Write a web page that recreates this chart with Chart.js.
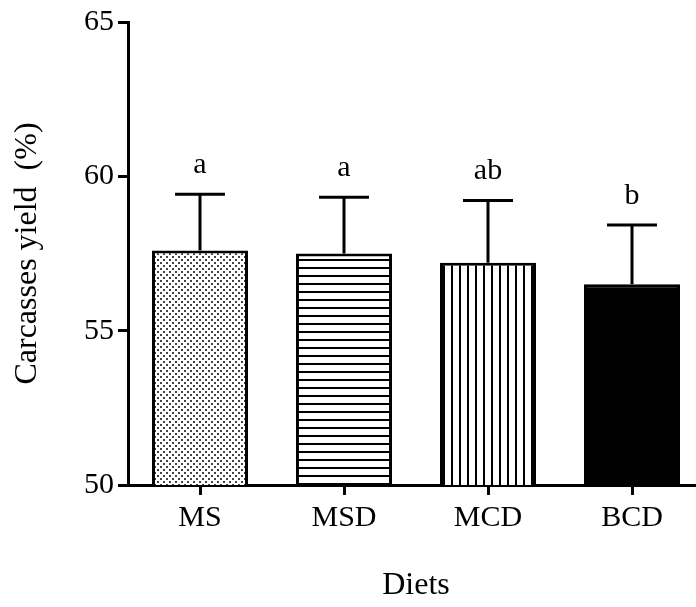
<!DOCTYPE html>
<html>
<head>
<meta charset="utf-8">
<script src="https://cdn.jsdelivr.net/npm/chart.js@4"></script>
<style>
  body { margin: 0; overflow: hidden; background: #fff; }
  canvas { display: block; }
</style>
</head>
<body>
<canvas id="yield" width="710" height="607"></canvas>
<script>
// data
var diets = ['MS', 'MSD', 'MCD', 'BCD'];
var meanYield = [57.6, 57.5, 57.2, 56.5];
var sdYield = [1.82, 1.82, 2.02, 1.92];
var letters = ['a', 'a', 'ab', 'b'];
var yTicks = [50, 55, 60, 65];

var serif = '"Liberation Serif", "Times New Roman", serif';

// fill patterns for the bars
function makePattern(kind) {
  var c = document.createElement('canvas');
  var g = c.getContext('2d');
  c.width = 6; c.height = 6;
  if (kind == 'hlines' || kind == 'vlines') { c.width = 8; c.height = 8; }
  g.fillStyle = '#fff'; g.fillRect(0, 0, c.width, c.height);
  if (kind == 'dots') {
    g.fillStyle = '#444';
    g.fillRect(1, 1, 2, 2);
    g.fillRect(4, 4, 2, 2);
  } else if (kind == 'hlines') {
    g.fillStyle = '#000'; g.fillRect(0, 3, 8, 2);
  } else if (kind == 'vlines') {
    g.fillStyle = '#000'; g.fillRect(3, 0, 2, 8);
  }
  return g.createPattern(c, 'repeat');
}

var fills = [makePattern('dots'), makePattern('hlines'), makePattern('vlines'), '#000'];

var errorBars = {
  id: 'errorBars',
  afterDatasetsDraw: function (chart) {
    var ctx = chart.ctx;
    var xs = chart.scales.x, ys = chart.scales.y;
    ctx.save();
    ctx.strokeStyle = '#000';
    ctx.lineWidth = 3;
    ctx.fillStyle = '#000';
    ctx.font = '30px ' + serif;
    ctx.textAlign = 'center';
    ctx.textBaseline = 'middle';
    for (var i = 0; i < diets.length; i++) {
      var x = xs.getPixelForValue(i);
      var y0 = ys.getPixelForValue(meanYield[i]);
      var y1 = ys.getPixelForValue(meanYield[i] + sdYield[i]);
      ctx.beginPath();
      ctx.moveTo(x, y0);
      ctx.lineTo(x, y1);
      ctx.moveTo(x - 25, y1);
      ctx.lineTo(x + 25, y1);
      ctx.stroke();
      ctx.fillText(letters[i], x, y1 - 29);
    }
    ctx.restore();
  }
};

var chart = new Chart(document.getElementById('yield'), {
  type: 'bar',
  data: {
    labels: diets,
    datasets: [{
      data: meanYield,
      backgroundColor: fills,
      borderColor: '#000',
      borderWidth: 3,
      borderSkipped: 'bottom',
      barPercentage: 0.667,
      categoryPercentage: 1
    }]
  },
  options: {
    responsive: false,
    animation: false,
    layout: { padding: { left: 0, top: 20, right: 6, bottom: 0 } },
    plugins: { legend: { display: false }, tooltip: { enabled: false } },
    scales: {
      x: {
        grid: { display: true, drawOnChartArea: false, offset: false, color: '#000', lineWidth: 3, tickLength: 10 },
        border: { color: '#000', width: 3 },
        ticks: { color: '#000', font: { family: serif, size: 30 }, padding: 5 },
        title: { display: true, text: 'Diets', color: '#000', font: { family: serif, size: 32 }, padding: { top: 0, bottom: 2 } },
        afterFit: function (s) { s.height = 122; }
      },
      y: {
        min: 50,
        max: 65,
        afterBuildTicks: function (s) { s.ticks = yTicks.map(function (v) { return { value: v }; }); },
        grid: { display: true, drawOnChartArea: false, color: '#000', lineWidth: 3, tickLength: 10 },
        border: { color: '#000', width: 3 },
        ticks: { color: '#000', font: { family: serif, size: 30 }, padding: 4 },
        title: { display: true, text: 'Carcasses yield  (%)', color: '#000', font: { family: serif, size: 32 }, padding: { top: 8, bottom: 0 } },
        afterFit: function (s) { s.width = 128; }
      }
    }
  },
  plugins: [errorBars]
});
</script>
</body>
</html>
